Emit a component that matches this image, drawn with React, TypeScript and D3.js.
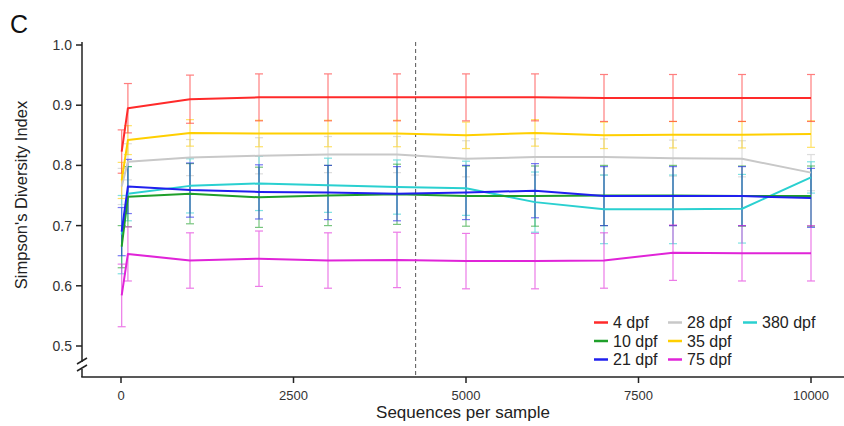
import React from "react";
import * as d3 from "d3";

// Rarefaction depths (sequences per sample)
const depths = [10, 100, 1000, 2000, 3000, 4000, 5000, 6000, 7000, 8000, 9000, 10000];

const groups = ["4 dpf", "10 dpf", "21 dpf", "28 dpf", "35 dpf", "75 dpf", "380 dpf"];

// Mean Simpson's index per group at each depth
const mean4 = [0.823, 0.895, 0.910, 0.913, 0.913, 0.913, 0.913, 0.913, 0.912, 0.912, 0.912, 0.912];
const mean10 = [0.665, 0.748, 0.753, 0.747, 0.750, 0.752, 0.749, 0.749, 0.750, 0.750, 0.749, 0.749];
const mean21 = [0.690, 0.765, 0.759, 0.756, 0.755, 0.753, 0.755, 0.758, 0.749, 0.749, 0.749, 0.746];
const mean28 = [0.765, 0.806, 0.813, 0.816, 0.818, 0.818, 0.811, 0.814, 0.814, 0.812, 0.811, 0.788];
const mean35 = [0.775, 0.842, 0.854, 0.853, 0.853, 0.853, 0.850, 0.854, 0.850, 0.851, 0.851, 0.852];
const mean75 = [0.584, 0.653, 0.642, 0.645, 0.642, 0.643, 0.641, 0.641, 0.642, 0.655, 0.654, 0.654];
const mean380 = [0.685, 0.753, 0.766, 0.770, 0.767, 0.764, 0.762, 0.739, 0.727, 0.727, 0.728, 0.780];

// Standard deviations
const sd4 = [0.036, 0.041, 0.040, 0.039, 0.039, 0.039, 0.039, 0.039, 0.039, 0.039, 0.039, 0.039];
const sd10 = [0.035, 0.050, 0.050, 0.050, 0.050, 0.050, 0.050, 0.050, 0.050, 0.050, 0.050, 0.050];
const sd21 = [0.040, 0.045, 0.045, 0.045, 0.045, 0.045, 0.045, 0.045, 0.049, 0.049, 0.049, 0.049];
const sd28 = [0.030, 0.030, 0.030, 0.030, 0.030, 0.030, 0.030, 0.030, 0.030, 0.030, 0.030, 0.030];
const sd35 = [0.030, 0.024, 0.022, 0.022, 0.022, 0.022, 0.022, 0.022, 0.022, 0.022, 0.022, 0.022];
const sd75 = [0.052, 0.045, 0.046, 0.046, 0.046, 0.046, 0.046, 0.046, 0.046, 0.046, 0.046, 0.046];
const sd380 = [0.065, 0.045, 0.045, 0.045, 0.045, 0.045, 0.045, 0.050, 0.057, 0.057, 0.057, 0.026];

const xTicks = [0, 2500, 5000, 7500, 10000];
const yTicks = [0.5, 0.6, 0.7, 0.8, 0.9, 1.0];
const cutoffDepth = 4270;

const colors = ["#ff2a2a", "#1f9f2a", "#2020ee", "#c8c8c8", "#ffcf00", "#e024d8", "#2ad0d0"];

const series = [
  { name: groups[0], mean: mean4, sd: sd4, color: colors[0] },
  { name: groups[1], mean: mean10, sd: sd10, color: colors[1] },
  { name: groups[2], mean: mean21, sd: sd21, color: colors[2] },
  { name: groups[3], mean: mean28, sd: sd28, color: colors[3] },
  { name: groups[4], mean: mean35, sd: sd35, color: colors[4] },
  { name: groups[5], mean: mean75, sd: sd75, color: colors[5] },
  { name: groups[6], mean: mean380, sd: sd380, color: colors[6] },
];

// draw order: light ones underneath
const drawOrder = [3, 6, 1, 2, 4, 5, 0];

const W = 844;
const H = 426;
const axisX = 82;
const axisY = 377;
const FONT = "'Liberation Sans', Arial, Helvetica, sans-serif";

export default function App() {
  const x = d3.scaleLinear().domain([0, 10000]).range([121, 811]);
  const y = d3.scaleLinear().domain([0.5, 1.0]).range([346, 45]);

  const line = d3
    .line<number>()
    .x((_, i) => x(depths[i]))
    .y((v) => y(v));

  const capHalf = 4;

  const legendCols = [594, 668, 743];
  const legendRows = [322.5, 341, 359.5];

  return (
    <svg
      width={W}
      height={H}
      style={{ position: "absolute", left: 0, top: 0, background: "#fff" }}
      fontFamily={FONT}
    >
      <text x={10} y={33} fontSize={25} fill="#111">
        C
      </text>

      {/* cutoff depth marker */}
      <line
        x1={x(cutoffDepth)}
        x2={x(cutoffDepth)}
        y1={42}
        y2={axisY}
        stroke="#555"
        strokeWidth={1}
        strokeDasharray="4,3"
      />

      {/* error bars */}
      {drawOrder.map((si) => {
        const s = series[si];
        return (
          <g key={"e" + si} stroke={s.color} strokeWidth={1.2} opacity={0.6}>
            {s.mean.map((m, i) => {
              const cx = x(depths[i]);
              const top = y(m + s.sd[i]);
              const bot = y(m - s.sd[i]);
              return (
                <g key={i}>
                  <line x1={cx} x2={cx} y1={top} y2={bot} />
                  <line x1={cx - capHalf} x2={cx + capHalf} y1={top} y2={top} />
                  <line x1={cx - capHalf} x2={cx + capHalf} y1={bot} y2={bot} />
                </g>
              );
            })}
          </g>
        );
      })}

      {/* mean lines */}
      {drawOrder.map((si) => {
        const s = series[si];
        return (
          <path
            key={"l" + si}
            d={line(s.mean) || ""}
            fill="none"
            stroke={s.color}
            strokeWidth={2}
            strokeLinejoin="round"
          />
        );
      })}

      {/* y axis with break */}
      <g stroke="#222" strokeWidth={1.5} fill="none">
        <line x1={axisX} x2={axisX} y1={y(1.005)} y2={362} />
        <line x1={axisX} x2={axisX} y1={369} y2={axisY} />
        <line x1={axisX - 5} x2={axisX + 5} y1={364} y2={358} />
        <line x1={axisX - 5} x2={axisX + 5} y1={371} y2={365} />
        <line x1={axisX - 0.75} x2={W} y1={axisY} y2={axisY} />
      </g>
      {yTicks.map((t) => (
        <g key={"yt" + t}>
          <line x1={axisX - 6} x2={axisX} y1={y(t)} y2={y(t)} stroke="#222" strokeWidth={1.5} />
          <text
            x={axisX - 10}
            y={y(t)}
            dy="0.35em"
            textAnchor="end"
            fontSize={14}
            fill="#333"
          >
            {d3.format(".1f")(t)}
          </text>
        </g>
      ))}
      {xTicks.map((t) => (
        <g key={"xt" + t}>
          <line x1={x(t)} x2={x(t)} y1={axisY} y2={axisY + 6} stroke="#222" strokeWidth={1.5} />
          <text x={x(t)} y={399.5} textAnchor="middle" fontSize={13} fill="#333">
            {t}
          </text>
        </g>
      ))}

      <text x={463} y={418} textAnchor="middle" fontSize={17} fill="#222">
        Sequences per sample
      </text>
      <text
        transform={`translate(27,195) rotate(-90)`}
        textAnchor="middle"
        fontSize={16.5}
        fill="#222"
      >
        Simpson's Diversity Index
      </text>

      {/* legend */}
      {series.map((s, i) => {
        const col = Math.floor(i / 3);
        const row = i % 3;
        const lx = legendCols[col];
        const ly = legendRows[row];
        return (
          <g key={"lg" + i}>
            <line x1={lx} x2={lx + 14} y1={ly} y2={ly} stroke={s.color} strokeWidth={2.5} />
            <text x={lx + 19} y={ly} dy="0.36em" fontSize={16} fill="#222">
              {s.name}
            </text>
          </g>
        );
      })}
    </svg>
  );
}
